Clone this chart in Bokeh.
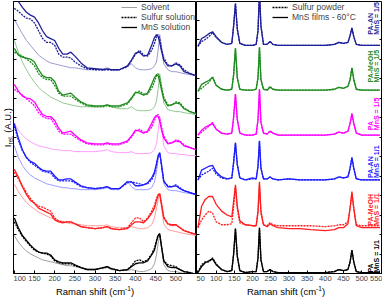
from bokeh.plotting import figure
from bokeh.layouts import row, column
from bokeh.models import Range1d, FixedTicker, LinearAxis, Label, Legend, LegendItem, CustomJSTickFormatter, Div
from bokeh.embed import file_html
from bokeh.resources import INLINE
from math import pi

FONT = "Liberation Sans"

# ---------------- left panel: solutions ----------------
x_left = [100,110,120,130,140,150,160,170,180,190,200,210,220,230,240,250,265,280,300,320,330,340,360,380,390,400,410,420,430,440,447,452,456,460,464,470,480,490,500,510,520,535,550]

pa_an_15_mns = [291,279,273,268,265,263,257,249,243,241,239,231,225,225,227,223,216,211,210,209,210,209,209,213,219,226,227,223,224,234,242,245,243,237,229,219,213,213,215,213,207,205,203]
pa_an_15_sul = [272,269,265,262,261,257,249,241,237,237,234,225,222,222,221,217,213,210,209,209,209,209,209,212,218,225,229,224,223,229,236,243,245,241,231,221,214,213,216,214,209,205,203]
pa_an_15_sol = [261,253,246,239,234,229,224,221,218,216,215,214,213,212,211,211,210,209,209,210,211,209,209,213,215,211,209,209,209,210,213,217,229,245,234,215,209,207,207,206,205,204,203]

pa_meoh_15_mns = [231,224,222,221,220,217,209,203,201,201,197,187,183,184,185,181,176,173,172,172,173,172,172,175,180,186,185,183,185,194,201,204,203,197,189,179,172,173,175,174,169,166,164]
pa_meoh_15_sul = [227,225,223,220,217,213,205,201,199,199,193,185,182,182,182,179,175,172,171,171,172,171,171,174,179,185,187,184,184,190,197,203,205,201,192,181,173,173,176,175,170,166,164]
pa_meoh_15_sol = [239,227,217,209,202,196,191,187,184,181,179,177,175,174,173,172,171,171,171,172,173,171,169,169,171,168,167,167,167,168,171,177,189,205,194,175,168,167,166,166,165,164,163]

pa_15_mns = [194,187,182,180,179,176,169,163,161,161,157,149,144,145,146,142,137,134,133,133,134,133,133,136,141,147,146,144,146,154,160,162,161,156,148,139,133,134,136,135,131,129,127]
pa_15_sul = [189,186,183,179,176,172,165,161,159,159,153,146,143,143,143,140,136,133,132,132,133,132,132,135,140,146,148,145,145,150,157,162,163,159,151,141,134,134,137,136,132,129,127]
pa_15_sol = [154,147,142,138,135,133,131,130,129,128,127,127,126,126,126,125,125,125,125,126,127,125,124,124,125,123,123,123,123,124,127,133,146,161,151,131,124,123,123,122,122,121,121]

pa_an_11_mns = [154,139,127,119,115,113,109,106,105,105,100,96,96,97,97,94,90,88,87,88,89,87,87,94,94,90,90,91,93,98,104,113,121,124,113,95,89,89,90,87,85,83,81]
pa_an_11_sul = [151,137,126,119,114,111,108,105,104,103,98,95,95,95,95,93,89,88,87,88,89,87,87,93,94,93,92,91,92,96,102,111,120,123,112,94,90,89,91,88,85,83,81]
pa_an_11_sol = [131,119,111,105,101,98,96,94,92,91,90,89,88,88,87,87,86,86,86,87,88,86,86,95,89,86,86,86,86,88,94,104,117,123,111,92,86,85,85,84,83,82,81]

pa_meoh_11_mns = [107,99,89,81,75,72,67,65,63,61,55,53,52,53,53,51,48,47,46,47,48,46,45,46,50,53,53,52,56,62,67,75,80,82,72,57,51,50,50,47,44,42,40]
pa_meoh_11_sul = [104,97,90,83,77,72,69,68,66,64,57,54,53,53,53,51,48,47,46,47,48,46,45,47,52,57,57,53,57,64,70,77,81,82,73,58,51,49,50,47,44,42,40]
pa_meoh_11_sol = [92,84,78,73,69,66,63,61,59,57,56,54,53,52,51,51,50,49,49,49,50,48,47,47,48,47,46,46,47,50,57,67,76,80,69,51,45,44,43,42,41,40,39]

pa_11_mns = [57,47,39,34,29,25,22,21,21,19,14,12,11,11,11,9,6,4,4,6,7,5,3,4,7,10,11,11,13,19,24,33,39,41,29,13,7,6,6,4,2,1,-1]
pa_11_sul = [53,45,38,33,28,24,22,21,20,18,13,11,10,10,10,8,6,4,4,6,7,5,3,4,8,13,14,12,14,20,26,34,39,40,29,13,9,8,7,4,2,1,-1]
pa_11_sol = [39,32,27,23,20,18,16,14,13,12,11,10,9,8,8,7,6,5,5,5,6,4,3,3,4,3,2,2,3,5,10,19,31,39,27,9,3,2,2,1,0,0,-1]

# ---------------- right panel: films ----------------
x_right = [50,60,70,80,90,100,115,130,143,148,153,158,165,180,200,210,215,219,223,230,240,248,256,270,300,330,360,400,425,437,450,462,468,473,478,485,500,525,550]

f_pa_an_15_mns = [233,241,243,246,248,243,237,235,236,254,277,251,236,234,234,235,249,289,254,235,235,238,235,234,234,234,234,234,235,237,236,237,244,252,243,235,234,234,234]
f_pa_an_15_sul = [233,238,240,243,247,242,237,235,236,254,277,251,236,234,234,235,249,289,254,235,235,238,235,234,234,234,234,234,235,237,236,237,244,252,243,235,234,234,234]
f_pa_meoh_15_mns = [187,194,196,198,201,193,189,188,189,204,231,201,189,188,188,189,201,232,199,189,188,191,189,188,188,188,188,188,189,191,190,192,199,211,199,189,188,188,188]
f_pa_meoh_15_sul = [187,190,193,196,202,193,189,188,189,204,231,201,189,188,188,189,201,232,199,189,188,192,189,188,188,188,188,188,189,191,190,192,199,211,199,189,188,188,188]
f_pa_15_mns = [142,147,150,152,154,148,144,143,144,160,184,158,144,142,142,143,158,189,155,144,143,146,144,142,142,142,142,142,143,145,144,146,154,164,154,144,142,142,142]
f_pa_15_sul = [142,145,148,151,155,148,144,143,144,160,184,158,144,142,142,143,158,189,155,144,143,146,144,142,142,142,142,142,143,145,144,146,154,164,154,144,142,142,142]
f_pa_an_11_mns = [96,106,108,110,111,104,99,97,98,114,134,112,98,96,98,97,110,136,108,97,97,99,97,96,97,96,96,96,97,99,98,99,108,119,108,97,96,96,96]
f_pa_an_11_sul = [96,101,103,105,108,102,98,97,98,114,134,112,98,96,97,97,110,136,108,97,97,99,97,96,97,96,96,96,97,99,98,99,108,119,108,97,96,96,96]
f_pa_meoh_11_mns = [47,69,76,79,79,71,64,60,58,74,91,69,54,50,49,49,64,94,64,50,48,51,49,47,46,46,45,44,45,47,47,51,67,84,67,49,47,47,47]
f_pa_meoh_11_sul = [47,55,60,64,62,53,50,50,51,69,89,67,52,50,49,49,63,91,62,50,49,52,50,49,49,49,49,48,49,50,50,53,67,82,67,50,49,49,49]
f_pa_11_mns = [1,7,11,13,15,9,4,2,3,20,46,18,3,1,2,2,16,47,14,2,2,4,2,1,1,1,1,1,2,4,3,4,12,24,12,2,1,1,1]
f_pa_11_sul = [1,9,12,12,16,10,4,2,3,20,46,18,3,1,2,2,16,47,14,2,2,4,2,1,1,1,1,1,2,4,3,4,12,24,12,2,1,1,1]

sample_labels = ["PA-AN\nMnS = 1/5", "PA-MeOH\nMnS = 1/5", "PA\nMnS = 1/5",
                 "PA-AN\nMnS = 1/1", "PA-MeOH\nMnS = 1/1", "PA\nMnS = 1/1"]
label_bottoms = [245, 196, 147, 98, 49, 1]

colors = ["#1f1f99", "#1e8c1e", "#ff00ff", "#1c1cff", "#ff1c1c", "#000000"]
light_colors = ["#9a9ad2", "#92c892", "#ff9cff", "#9a9aff", "#ff9c9c", "#a0a0a0"]

left_groups = [
    (pa_an_15_sol, pa_an_15_sul, pa_an_15_mns),
    (pa_meoh_15_sol, pa_meoh_15_sul, pa_meoh_15_mns),
    (pa_15_sol, pa_15_sul, pa_15_mns),
    (pa_an_11_sol, pa_an_11_sul, pa_an_11_mns),
    (pa_meoh_11_sol, pa_meoh_11_sul, pa_meoh_11_mns),
    (pa_11_sol, pa_11_sul, pa_11_mns),
]
right_groups = [
    (f_pa_an_15_sul, f_pa_an_15_mns),
    (f_pa_meoh_15_sul, f_pa_meoh_15_mns),
    (f_pa_15_sul, f_pa_15_mns),
    (f_pa_an_11_sul, f_pa_an_11_mns),
    (f_pa_meoh_11_sul, f_pa_meoh_11_mns),
    (f_pa_11_sul, f_pa_11_mns),
]

DOT = "2 1"
TICK_FS = "7.5px"
PH = 283   # figure height (frame + tick labels)


def style_xaxis(ax, ticks):
    ax.ticker = FixedTicker(ticks=ticks)
    ax.major_tick_in = 3
    ax.major_tick_out = 0
    ax.minor_tick_line_color = None
    ax.major_label_text_font = FONT
    ax.major_label_text_font_size = TICK_FS
    ax.major_label_standoff = 2
    ax.axis_line_width = 1


def style_yaxis(ax):
    ax.ticker = FixedTicker(ticks=list(range(0, 280, 20)))
    ax.major_tick_in = 3
    ax.major_tick_out = 0
    ax.minor_tick_line_color = None
    ax.formatter = CustomJSTickFormatter(code="return ''")
    ax.major_label_standoff = 0
    ax.major_label_text_font_size = "1px"


p1 = figure(width=183, height=PH, x_range=Range1d(98, 551), y_range=Range1d(0, 279),
            output_backend="svg", toolbar_location=None, title=None,
            min_border_left=0, min_border_right=0, min_border_top=1, min_border_bottom=0)
p2 = figure(width=186, height=PH, x_range=Range1d(46, 557), y_range=Range1d(0, 279),
            output_backend="svg", toolbar_location=None, title=None,
            min_border_left=0, min_border_right=0, min_border_top=1, min_border_bottom=0)

for p in (p1, p2):
    p.grid.visible = False
    p.outline_line_color = "black"
    p.background_fill_color = "white"
    p.border_fill_color = "white"

style_xaxis(p1.xaxis[0], [100, 150, 200, 250, 300, 350, 400, 450, 500])
style_xaxis(p2.xaxis[0], [50, 100, 150, 200, 250, 300, 350, 400, 450, 500, 550])
style_yaxis(p1.yaxis[0])
style_yaxis(p2.yaxis[0])
rax = LinearAxis()
style_yaxis(rax)
p2.add_layout(rax, "right")

# left curves
left_keys = None
for (sol, sul, mns), c, lc in zip(left_groups, colors, light_colors):
    r_sol = p1.line(x_left, sol, line_color=lc, line_width=1)
    r_sul = p1.line(x_left, sul, line_color=c, line_width=1.3, line_dash=DOT)
    r_mns = p1.line(x_left, mns, line_color=c, line_width=1.3)
    left_keys = (r_sol, r_sul, r_mns)

# right curves
right_keys = None
for (sul, mns), c in zip(right_groups, colors):
    r_sul = p2.line(x_right, sul, line_color=c, line_width=1.3, line_dash=DOT)
    r_mns = p2.line(x_right, mns, line_color=c, line_width=1.3)
    right_keys = (r_sul, r_mns)

leg1 = Legend(items=[LegendItem(label="Solvent", renderers=[left_keys[0]]),
                     LegendItem(label="Sulfur solution", renderers=[left_keys[1]]),
                     LegendItem(label="MnS solution", renderers=[left_keys[2]])],
              location="top_right", label_width=54)
leg2 = Legend(items=[LegendItem(label="Sulfur powder", renderers=[right_keys[0]]),
                     LegendItem(label="MnS films - 60\u00b0C", renderers=[right_keys[1]])],
              location="top_right", label_width=89)
for lg, p in ((leg1, p1), (leg2, p2)):
    lg.background_fill_alpha = 0
    lg.border_line_alpha = 0
    lg.padding = 0
    lg.margin = 1
    lg.spacing = 0
    lg.label_height = 10
    lg.glyph_height = 10
    lg.glyph_width = 16
    lg.label_standoff = 4
    lg.label_text_font = FONT
    lg.label_text_font_size = "8.5px"
    lg.label_text_baseline = "middle"
    p.add_layout(lg, "center")

# sample labels on right panel (rotated)
for txt, yb, c in zip(sample_labels, label_bottoms, colors):
    p2.add_layout(Label(x=514, y=yb, text=txt, angle=pi / 2, text_align="left",
                        text_baseline="top", text_color=c, text_font=FONT,
                        text_font_size="7px", text_font_style="bold", text_line_height=0.95))

ylab = Div(text='<div style="font-family:\'Liberation Sans\';font-size:9.5px;white-space:nowrap;'
                'writing-mode:vertical-rl;transform:rotate(180deg);position:absolute;left:1px;top:108px;">'
                'I<sub style="font-size:6.5px">rel.</sub> (A.U.)</div>',
           width=13, height=PH, margin=0, styles={"position": "relative"})


def xtitle(w):
    return Div(text=('<div style="font-family:\'Liberation Sans\';font-size:9.5px;white-space:nowrap;'
                     'text-align:center;line-height:12px;width:%dpx;">'
                     'Raman shift (cm<sup style="font-size:6.5px">-1</sup>)</div>') % w,
               width=w, height=13, margin=0)


layout = column(row(ylab, p1, p2), row(xtitle(190), xtitle(192)))
open("out.html", "w").write(file_html(layout, INLINE))
